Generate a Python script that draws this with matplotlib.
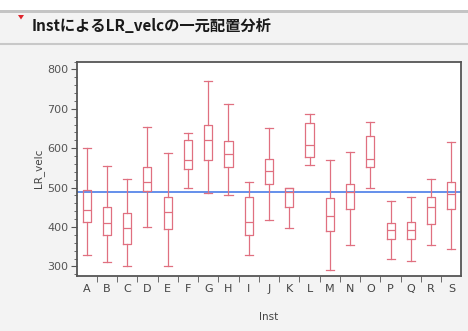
import numpy as np
import matplotlib
matplotlib.use('Agg')
from matplotlib import pyplot as plt
import matplotlib.patches as patches
from matplotlib.ticker import MultipleLocator

plt.rcParams['font.family'] = ['Noto Sans CJK JP', 'DejaVu Sans']

# 読み取った値 (LR_velc)
insts = ['A', 'B', 'C', 'D', 'E', 'F', 'G', 'H', 'I', 'J',
         'K', 'L', 'M', 'N', 'O', 'P', 'Q', 'R', 'S']
whis_lo = [330, 312, 302, 400, 300, 500, 486, 481, 330, 419,
           397, 558, 291, 355, 500, 319, 313, 355, 345]
q1 = [412, 381, 357, 491, 395, 548, 571, 552, 381, 508,
      450, 577, 389, 446, 552, 370, 370, 408, 446]
med = [442, 410, 397, 514, 438, 569, 622, 586, 412, 541,
       488, 607, 427, 488, 573, 393, 393, 450, 484]
q3 = [493, 452, 435, 552, 476, 621, 660, 618, 476, 573,
      500, 664, 474, 510, 632, 410, 414, 477, 514]
whis_hi = [600, 556, 521, 655, 588, 638, 770, 713, 514, 652,
           500, 686, 571, 590, 666, 465, 477, 522, 615]
grand_mean = 490

W, H = 468, 331
fig = plt.figure(figsize=(W / 100, H / 100), dpi=100)
fig.patch.set_facecolor('#f3f3f3')

# 上部の枠と見出し
fig.add_artist(patches.Rectangle((0, 1 - 10 / H), 1, 10 / H, transform=fig.transFigure,
                                 facecolor='#ffffff', edgecolor='none'))
fig.add_artist(patches.Rectangle((0, 1 - 13 / H), 1, 3 / H, transform=fig.transFigure,
                                 facecolor='#c4c4c4', edgecolor='none'))
fig.add_artist(plt.Line2D([0, 1], [1 - 44 / H, 1 - 44 / H], transform=fig.transFigure,
                          color='#c8c8c8', linewidth=1.5))
tri = patches.Polygon([[18 / W, 1 - 15 / H], [24 / W, 1 - 15 / H], [21 / W, 1 - 19.5 / H]],
                      closed=True, transform=fig.transFigure,
                      facecolor='#e0242c', edgecolor='none')
fig.add_artist(tri)
fig.text(32 / W, 1 - 26 / H, 'InstによるLR_velcの一元配置分析', fontsize=11,
         fontweight='bold', color='#1a1a1a', va='center', ha='left')

ax = fig.add_axes([76.5 / W, 1 - 275.5 / H, 385 / W, 214 / H])
ax.set_facecolor('white')

stats = []
for i, name in enumerate(insts):
    stats.append({'label': name, 'med': med[i], 'q1': q1[i], 'q3': q3[i],
                  'whislo': whis_lo[i], 'whishi': whis_hi[i], 'fliers': []})

red = '#e07080'
pos = np.arange(len(insts))
ax.bxp(stats, positions=pos, widths=0.4, showfliers=False, patch_artist=False,
       boxprops=dict(color=red, linewidth=0.9),
       medianprops=dict(color=red, linewidth=0.9),
       whiskerprops=dict(color=red, linewidth=0.9),
       capprops=dict(color=red, linewidth=0.9),
       capwidths=0.4)

ax.axhline(grand_mean, color='#4a7de8', linewidth=1.2, zorder=0)

ax.set_xlim(-0.5, len(insts) - 0.5)
ax.set_ylim(277, 820)
ax.set_xticks(pos)
ax.set_xticklabels(insts)
ax.set_xticks(pos[:-1] + 0.5, minor=True)
ax.tick_params(axis='x', which='major', length=0, labelsize=8,
               labelcolor='#444444', pad=6)
ax.tick_params(axis='x', which='minor', length=4, color='#555555', direction='out')
ax.yaxis.set_major_locator(MultipleLocator(100))
ax.yaxis.set_minor_locator(MultipleLocator(20))
ax.tick_params(axis='y', which='major', length=4, labelsize=8,
               labelcolor='#555555', color='#555555', pad=2)
ax.tick_params(axis='y', which='minor', length=2, color='#555555')
for lab in ax.get_xticklabels() + ax.get_yticklabels():
    lab.set_family('DejaVu Sans')

for side in ['left', 'bottom', 'top', 'right']:
    ax.spines[side].set_color('#555555')
    ax.spines[side].set_linewidth(1.3)

ax.set_xlabel('Inst', fontsize=7.5, color='#444444', labelpad=13, family='DejaVu Sans')
ax.set_ylabel('LR_velc', fontsize=7.5, color='#444444', labelpad=2, family='DejaVu Sans')

plt.savefig('out.png', dpi=100, facecolor=fig.get_facecolor())
